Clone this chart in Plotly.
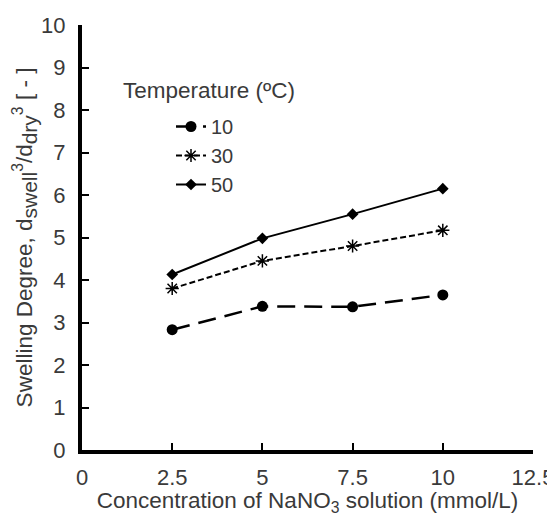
import plotly.graph_objects as go

conc = [2.5, 5, 7.5, 10]
t10 = [2.83, 3.38, 3.37, 3.65]
t30 = [3.80, 4.45, 4.80, 5.17]
t50 = [4.13, 4.98, 5.55, 6.15]
series_names = ["10", "30", "50"]
x_ticks = [0, 2.5, 5, 7.5, 10, 12.5]
x_tick_labels = ["0", "2.5", "5", "7.5", "10", "12.5"]
y_ticks = list(range(0, 11))

fig = go.Figure()
fig.add_trace(go.Scatter(
    x=conc, y=t10, name=series_names[0], mode="lines+markers",
    line=dict(color="black", width=2.5, dash="18px,9px"),
    marker=dict(symbol="circle", size=11, color="black")))
fig.add_trace(go.Scatter(
    x=conc, y=t30, name=series_names[1], mode="lines+markers",
    line=dict(color="black", width=2, dash="6px,3px"),
    marker=dict(symbol="asterisk-open", size=11, color="black", line=dict(width=1.5, color="black"))))
fig.add_trace(go.Scatter(
    x=conc, y=t50, name=series_names[2], mode="lines+markers",
    line=dict(color="black", width=2),
    marker=dict(symbol="diamond", size=9, color="black")))

font = "Liberation Sans, Arial, sans-serif"
txt = "#3a3a3a"
# page body has an 8px offset, so the figure is 8px smaller and margins shifted
W, H, OFF = 547, 508, 8
L, R, T, B = 82 - OFF, 22, 25 - OFF, 66
plot_w = W - L - R
plot_h = H - T - B

def px_x(p):
    return (p - OFF - L) / plot_w

def px_y(p):
    return (H - B - (p - OFF)) / plot_h

ytitle = ("Swelling Degree, d<sub><span style='font-size:21px'>swell</span></sub>"
          "<sup>3</sup>/d<sub><span style='font-size:21px'>dry</span></sub><sup>3</sup> [ - ]")

fig.update_layout(
    width=W, height=H,
    margin=dict(l=L, r=R, t=T, b=B),
    paper_bgcolor="white", plot_bgcolor="white",
    font=dict(family=font, color=txt, size=22),
    showlegend=True,
    legend=dict(x=px_x(171), y=px_y(107), xanchor="left", yanchor="top",
                bgcolor="rgba(0,0,0,0)", font=dict(size=20, color=txt),
                tracegroupgap=0),
    xaxis=dict(range=[0, 12.5], tickvals=x_ticks, ticktext=x_tick_labels,
               showgrid=False, zeroline=False, showline=True, linecolor="black", linewidth=4,
               ticks="inside", ticklen=7, tickwidth=1.5, tickcolor="black",
               ticklabelstandoff=5, automargin=False,
               tickfont=dict(size=22, color=txt),
               title=dict(text="Concentration of NaNO<sub>3</sub> solution (mmol/L)",
                          font=dict(size=22.5, color=txt), standoff=7)),
    yaxis=dict(range=[0, 10], tickvals=y_ticks,
               showgrid=False, zeroline=False, showline=True, linecolor="black", linewidth=4,
               ticks="inside", ticklen=7, tickwidth=1.5, tickcolor="black",
               ticklabelstandoff=8, automargin=False,
               tickfont=dict(size=22, color=txt),
               title=dict(text=ytitle, font=dict(size=22.5, color=txt), standoff=3)),
    annotations=[dict(text="Temperature (ºC)", xref="paper", yref="paper",
                      x=px_x(121), y=px_y(90), xanchor="left", yanchor="middle",
                      showarrow=False, font=dict(size=22.5, color=txt))],
)
fig.write_html("out.html")
